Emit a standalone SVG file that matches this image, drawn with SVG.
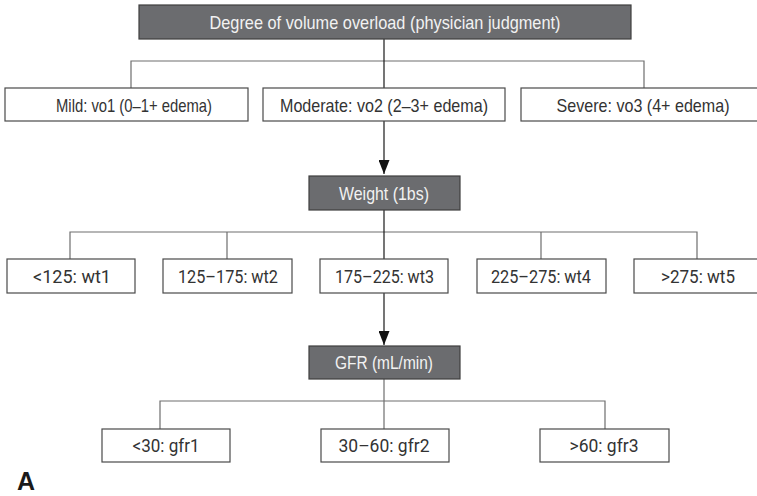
<svg xmlns="http://www.w3.org/2000/svg" width="757" height="496" viewBox="0 0 757 496">
<style>
.dark{fill:#6b6c6f;stroke:#3e3e3e;stroke-width:1.2}
.box{fill:#ffffff;stroke:#4a4a4a;stroke-width:1.2}
.t{font-family:"Liberation Sans","Noto Sans",sans-serif;font-size:18.5px;text-anchor:middle}
.tl{fill:#f2f2f2}
.tb{fill:#333333}
.t2{font-family:Roboto,"Liberation Sans",sans-serif;font-size:17.5px;text-anchor:middle;fill:#333333}
.gl{fill:none;stroke:#6e6e6e;stroke-width:1.2}
.bl{fill:none;stroke:#1a1a1a;stroke-width:1.2}
</style>
<defs>
<marker id="arr" markerWidth="14" markerHeight="11" refX="14" refY="5.5" orient="auto" markerUnits="userSpaceOnUse" viewBox="0 0 14 11">
<path d="M0,0 L14,5.5 L0,11 Z" fill="#111"/>
</marker>
</defs>
<rect width="757" height="496" fill="#ffffff"/>
<g id="connectors">
<path class="gl" d="M131,88 V61 H644 V88"/>
<path class="bl" d="M384,39 V88"/>
<path class="bl" d="M384,121 V174" marker-end="url(#arr)"/>
<path class="gl" d="M70,259 V232 H697 V259"/>
<path class="gl" d="M227,232 V259 M541,232 V259"/>
<path class="bl" d="M384,210 V259"/>
<path class="bl" d="M384,293 V345" marker-end="url(#arr)"/>
<path class="gl" d="M160,429 V401 H605 V429"/>
<path class="gl" d="M384,379 V429"/>
</g>
<g id="n-top"><rect class="dark" x="139" y="5" width="492" height="34"/><text class="t tl" x="385" y="28.5" textLength="351" lengthAdjust="spacingAndGlyphs">Degree of volume overload (physician judgment)</text></g>
<g id="n-mild"><rect class="box" x="5" y="88" width="243" height="33"/><text class="t tb" x="134" y="111.5" textLength="156" lengthAdjust="spacingAndGlyphs">Mild: vo1 (0–1+ edema)</text></g>
<g id="n-moderate"><rect class="box" x="263" y="88" width="242" height="33"/><text class="t tb" x="384" y="111.5" textLength="208" lengthAdjust="spacingAndGlyphs">Moderate: vo2 (2–3+ edema)</text></g>
<g id="n-severe"><rect class="box" x="521" y="88" width="245" height="33"/><text class="t tb" x="643" y="111.5" textLength="173" lengthAdjust="spacingAndGlyphs">Severe: vo3 (4+ edema)</text></g>
<g id="n-weight"><rect class="dark" x="309" y="176" width="151" height="34"/><text class="t tl" x="384" y="199.5" textLength="90" lengthAdjust="spacingAndGlyphs">Weight (1bs)</text></g>
<g id="n-wt1"><rect class="box" x="7" y="259" width="128" height="34"/><text class="t2" x="72" y="282.5" textLength="78" lengthAdjust="spacingAndGlyphs">&lt;125: wt1</text></g>
<g id="n-wt2"><rect class="box" x="163" y="259" width="129" height="34"/><text class="t2" x="228" y="282.5" textLength="100" lengthAdjust="spacingAndGlyphs">125–175: wt2</text></g>
<g id="n-wt3"><rect class="box" x="320" y="259" width="128" height="34"/><text class="t2" x="384.5" y="282.5" textLength="99" lengthAdjust="spacingAndGlyphs">175–225: wt3</text></g>
<g id="n-wt4"><rect class="box" x="477" y="259" width="129" height="34"/><text class="t2" x="541" y="282.5" textLength="100" lengthAdjust="spacingAndGlyphs">225–275: wt4</text></g>
<g id="n-wt5"><rect class="box" x="634" y="259" width="128" height="34"/><text class="t2" x="698" y="282.5" textLength="74" lengthAdjust="spacingAndGlyphs">&gt;275: wt5</text></g>
<g id="n-gfr"><rect class="dark" x="309" y="346" width="151" height="33"/><text class="t tl" x="384" y="369" textLength="98" lengthAdjust="spacingAndGlyphs">GFR (mL/min)</text></g>
<g id="n-gfr1"><rect class="box" x="102" y="429" width="128" height="33"/><text class="t2" x="166" y="452" textLength="67" lengthAdjust="spacingAndGlyphs">&lt;30: gfr1</text></g>
<g id="n-gfr2"><rect class="box" x="321" y="429" width="128" height="33"/><text class="t2" x="384" y="452" textLength="91" lengthAdjust="spacingAndGlyphs">30–60: gfr2</text></g>
<g id="n-gfr3"><rect class="box" x="540" y="429" width="129" height="33"/><text class="t2" x="604" y="452" textLength="69" lengthAdjust="spacingAndGlyphs">&gt;60: gfr3</text></g>
<text x="17" y="490" font-family="Liberation Sans, Arial, sans-serif" font-size="25" font-weight="bold" fill="#1a1a1a">A</text>
</svg>
